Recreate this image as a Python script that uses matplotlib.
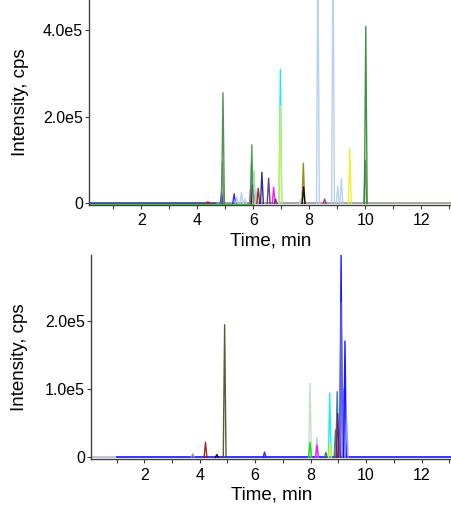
import matplotlib.pyplot as plt
from matplotlib.ticker import MultipleLocator, FixedLocator

plt.rcParams['font.family'] = ['Liberation Sans', 'DejaVu Sans']

# Panel 1 peaks: retention time (min), apex intensity (cps), colour
top_times = [4.38, 4.87, 4.90, 4.92, 5.32, 5.42, 5.58, 5.70, 5.92, 5.94, 5.95,
             5.99, 6.01, 6.03, 6.10, 6.18, 6.31, 6.55, 6.73, 6.80, 6.97, 6.97,
             7.70, 7.79, 7.80, 8.31, 8.55, 8.85, 9.02, 9.15, 9.45, 10.00, 10.02]
top_heights = [4e3, 2.4e4, 9.5e4, 2.55e5, 2.2e4, 1.4e4, 2.5e4, 1.0e4, 5.0e4, 9.1e4, 1.35e5,
               4.2e4, 1.0e4, 7.6e4, 3.0e4, 3.5e4, 7.2e4, 5.8e4, 3.7e4, 1.0e4, 3.09e5, 2.25e5,
               1.0e4, 9.25e4, 3.8e4, 6.0e5, 1.0e4, 6.0e5, 4.0e4, 5.7e4, 1.27e5, 1.0e5, 4.08e5]
top_colors = ['red', '#1a1aff', '#8a948a', '#3f8a3f', '#1a1aff', '#b0ccf0', '#b0ccf0', '#b0ccf0',
              '#ff00ff', '#7090d0', '#3a9a3a', 'black', 'red', '#a8d8a8', '#b0ccf0', '#8b1a1a',
              '#1a1a80', '#5a2a7a', '#ff00ff', '#5a2a7a', '#00e5ff', '#e0f040', '#b0ccf0',
              '#8b8000', 'black', '#b0ccf0', '#a02080', '#b0ccf0', '#b0ccf0', '#b0ccf0',
              '#e8f020', '#708070', '#2a8a2a']

# Panel 2 peaks
bot_times = [3.75, 4.21, 4.62, 4.90, 6.34, 7.98, 7.98, 8.23, 8.23, 8.55, 8.69, 8.70,
             8.90, 8.96, 8.98, 9.03, 9.10, 9.10, 9.20, 9.24, 9.30]
bot_heights = [5e3, 2.2e4, 4e3, 1.94e5, 7.7e3, 1.08e5, 2.2e4, 2.9e4, 1.8e4, 7e3, 9.4e4, 1.9e4,
               4.0e4, 9.6e4, 6.4e4, 4.0e4, 2.96e5, 2.26e5, 1.0e5, 1.7e5, 5.5e4]
bot_colors = ['#909090', '#a01010', 'black', '#4a4a20', '#1a1aff', '#c0dcc0', '#00dd00',
              '#b0c8f0', '#ff00ff', '#207070', '#00f0f0', '#f0f000', '#207878', '#207878',
              '#801060', '#8b1a1a', '#0000ff', '#6060ff', '#8080ff', '#0000ff', '#9090ff']

# Baseline traces: start, end, colour, offset
top_base = [(0.12, 6.0, '#00dd00', -1500), (0.12, 4.7, '#3030a0', 0), (4.7, 13.1, '#8a948a', 0)]
bot_base = [(0.07, 1.0, '#b0b0d0', 0), (1.0, 13.1, '#0000ff', 0)]

top_yticks = [0, 2e5, 4e5]
top_ylabels = ['0', '2.0e5', '4.0e5']
bot_yticks = [0, 1e5, 2e5]
bot_ylabels = ['0', '1.0e5', '2.0e5']

fig = plt.figure(figsize=(4.52, 5.19), dpi=100)
ax1 = fig.add_axes([0.196, 0.6056, 0.804, 0.3944])
ax2 = fig.add_axes([0.2007, 0.115, 0.7993, 0.3937])

half_w = 0.05


def draw_panel(ax, times, heights, colors, base, xmin, ymax, yticks, ylabels, ypad):
    for t0, t1, c, off in base:
        ax.plot([t0, t1], [off, off], color=c, lw=1.1, zorder=1)
    for t, h, c in zip(times, heights, colors):
        ax.plot([t - half_w, t, t + half_w], [0, h, 0], color=c, lw=1.0, alpha=0.9, zorder=2)
    ax.set_xlim(xmin, 13.1)
    ax.set_ylim(-3000, ymax)
    for s in ['top', 'right']:
        ax.spines[s].set_visible(False)
    for s in ['left', 'bottom']:
        ax.spines[s].set_color('#404040')
        ax.spines[s].set_linewidth(1.0)
    ax.xaxis.set_major_locator(FixedLocator([2, 4, 6, 8, 10, 12]))
    ax.xaxis.set_minor_locator(MultipleLocator(1))
    ax.set_yticks(yticks)
    ax.set_yticklabels(ylabels)
    ax.tick_params(axis='both', which='both', direction='out', length=3, width=0.8,
                   labelsize=11.5, pad=1, color='#404040')
    ax.tick_params(axis='x', pad=3)
    ax.set_xlabel('Time, min', fontsize=13.5, labelpad=3)
    ax.set_ylabel('Intensity, cps', fontsize=13.5, labelpad=ypad)


draw_panel(ax1, top_times, top_heights, top_colors, top_base, 0.12, 4.69e5,
           top_yticks, top_ylabels, 10)
draw_panel(ax2, bot_times, bot_heights, bot_colors, bot_base, 0.07, 2.96e5,
           bot_yticks, bot_ylabels, 12)

fig.savefig('out.png', dpi=100)
